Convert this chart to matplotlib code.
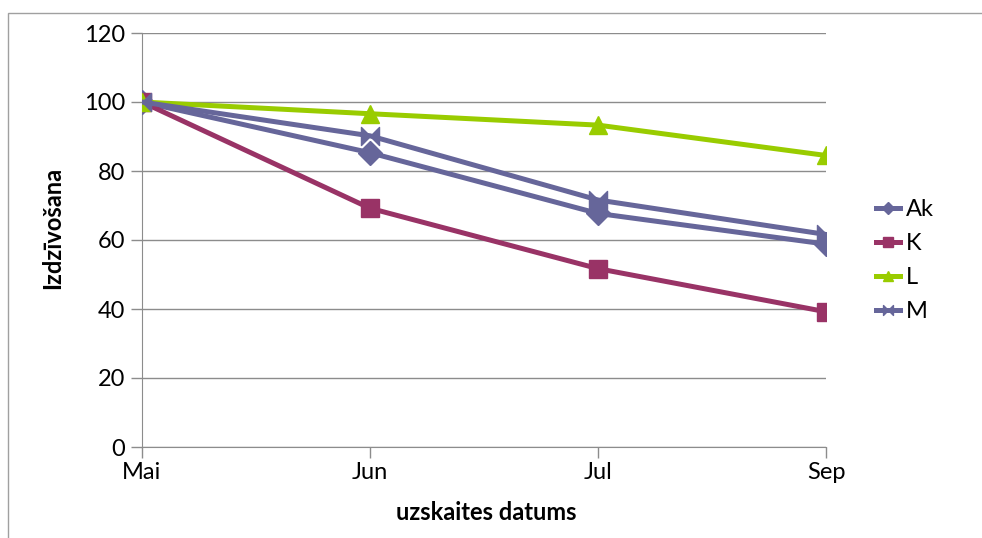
import matplotlib.pyplot as plt
from matplotlib.path import Path
from matplotlib.patches import Rectangle

# dati
menesi = ["Mai", "Jun", "Jul", "Sep"]
Ak = [100, 85.3, 67.7, 58.8]
K = [100, 69.2, 51.7, 39.2]
L = [100, 96.6, 93.3, 84.5]
M = [100, 90.2, 71.6, 61.6]

purple = "#66669A"
bordo = "#993366"
green = "#99CC00"
grid_c = "#8C8C8C"

plt.rcParams["font.family"] = ["Lato", "DejaVu Sans"]
fs = 17

# taurenitis marķieris priekš M
bowtie = Path([(-1, -1), (0, 0), (-1, 1), (-1, -1),
               (1, -1), (0, 0), (1, 1), (1, -1)],
              [Path.MOVETO, Path.LINETO, Path.LINETO, Path.CLOSEPOLY,
               Path.MOVETO, Path.LINETO, Path.LINETO, Path.CLOSEPOLY])

fig = plt.figure(figsize=(9.82, 5.38), dpi=100)
ax = fig.add_axes([142/982, 1-447/538, (826-142)/982, (447-33)/538])

x = range(len(menesi))
ax.plot(x, Ak, color=purple, lw=3.6, marker="D", ms=12, label="Ak", zorder=3)
ax.plot(x, K, color=bordo, lw=3.6, marker="s", ms=13, label="K", zorder=3)
ax.plot(x, L, color=green, lw=3.6, marker="^", ms=13, label="L", zorder=3)
ax.plot(x, M, color=purple, lw=3.6, marker=bowtie, ms=13, label="M", zorder=3)

ax.set_xlim(0, 3)
ax.set_ylim(0, 120)
ax.set_yticks(range(0, 121, 20))
ax.set_xticks(list(x))
ax.set_xticklabels(menesi)
ax.yaxis.grid(True, color=grid_c, lw=1)
ax.set_axisbelow(True)
for s in ["top", "right"]:
    ax.spines[s].set_visible(False)
for s in ["left", "bottom"]:
    ax.spines[s].set_color(grid_c)
ax.tick_params(axis="both", colors=grid_c, labelcolor="black", labelsize=fs,
               length=8, width=1)
ax.tick_params(axis="y", pad=4)
ax.tick_params(axis="x", pad=3)

ax.set_xlabel("uzskaites datums", fontsize=fs, fontweight="bold")
ax.set_ylabel("Izdzīvošana", fontsize=fs, fontweight="bold")
ax.xaxis.set_label_coords(0.504, -0.13)
ax.yaxis.set_label_coords(-0.114, 0.529)

leg = ax.legend(loc="center left", bbox_to_anchor=(1.042, 0.45), frameon=False,
                fontsize=fs, handlelength=1.0, handletextpad=0.25,
                labelspacing=0.55, markerscale=0.55)

# rāmis ap diagrammu
fig.patches.append(Rectangle((8/982, -0.1), 1.1, 1 - 13/538 + 0.1,
                             transform=fig.transFigure, fill=False,
                             edgecolor="#A0A0A0", lw=1))

fig.savefig("out.png", dpi=100)
